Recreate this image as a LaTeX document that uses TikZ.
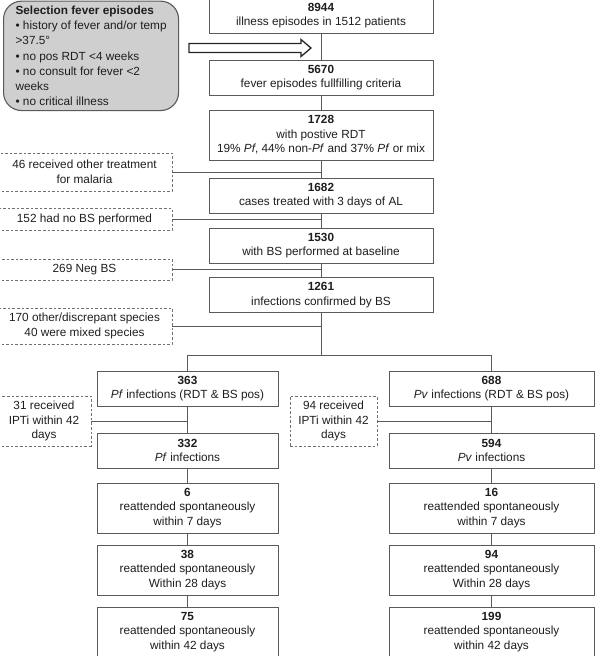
\documentclass[tikz,border=0pt]{standalone}
\usepackage{fontspec}
\setmainfont{Liberation Sans}
\definecolor{txt}{HTML}{1E1E1E}
\definecolor{bord}{HTML}{5A5A5A}
\definecolor{dashc}{HTML}{707070}
\definecolor{selfill}{HTML}{CFCFCF}
\tikzset{
  fnt/.style={font=\fontsize{11.8}{14.5}\selectfont},
  box/.style={draw=bord, line width=1pt, fill=white, align=center, inner sep=0pt, text=txt, fnt},
  dbox/.style={draw=dashc, line width=0.9pt, dash pattern=on 2.6pt off 2pt, align=center, inner sep=0pt, text=txt, fnt},
  link/.style={draw=bord, line width=1pt},
  mainbox/.style={box, minimum width=224pt},
  pfbox/.style={box, minimum width=181pt},
  pvbox/.style={box, minimum width=205pt},
  two/.style={minimum height=35pt},
  three/.style={minimum height=50pt},
  selbox/.style={draw=bord, line width=1.1pt, fill=selfill, rounded corners=18pt, align=left, inner xsep=12pt, inner ysep=0pt, text=txt, font=\fontsize{11.8}{15.2}\selectfont, minimum width=175pt, minimum height=109.4pt, anchor=north west},
  bigarrow/.style={draw=black!85, line width=1.3pt, fill=white},
}
\begin{document}
\begin{tikzpicture}[x=1pt, y=-1pt]
\useasboundingbox (0,0) rectangle (600,656);

% selection box and arrow
\node[selbox] (sel) at (3,0.6) {\textbf{Selection fever episodes}\\
• history of fever and/or temp\\
>37.5°\\
• no pos RDT <4 weeks\\
• no consult for fever <2\\
weeks\\
• no critical illness};
\draw[bigarrow] (189,43.5) -- (301,43.5) -- (301,39.5) -- (311,48) -- (301,56.5) -- (301,52.5) -- (189,52.5) -- cycle;

% main column
\node[mainbox, two] (n8944) at (321,15.5) {\textbf{8944}\\illness episodes in 1512 patients};
\node[mainbox, two] (n5670) at (321,77.5) {\textbf{5670}\\fever episodes fullfilling criteria};
\node[mainbox, three] (n1728) at (321,135) {\textbf{1728}\\with postive RDT\\19\% \textit{Pf}, 44\% non-\textit{Pf} and 37\% \textit{Pf} or mix};
\node[mainbox, two] (n1682) at (321,195.5) {\textbf{1682}\\cases treated with 3 days of AL};
\node[mainbox, two] (n1530) at (321,245.5) {\textbf{1530}\\with BS performed at baseline};
\node[mainbox, two] (n1261) at (321,295) {\textbf{1261}\\infections confirmed by BS};

% exclusion boxes
\node[dbox, minimum width=175pt, minimum height=38pt] (d46) at (84.5,172) {46 received other treatment\\for malaria};
\node[dbox, minimum width=175pt, minimum height=22pt] (d152) at (84.5,219.5) {152 had no BS performed};
\node[dbox, minimum width=175pt, minimum height=21pt] (d269) at (84.5,269.5) {269 Neg BS};
\node[dbox, minimum width=175pt, minimum height=36pt] (d170) at (84.5,326) {170 other/discrepant species\\40 were mixed species};

% Pf column
\node[pfbox, two] (p363) at (187.5,388.5) {\textbf{363}\\\textit{Pf} infections (RDT \& BS pos)};
\node[pfbox, two] (p332) at (187.5,450.5) {\textbf{332}\\\textit{Pf} infections};
\node[pfbox, three] (p6) at (187.5,508) {\textbf{6}\\reattended spontaneously\\within 7 days};
\node[pfbox, three] (p38) at (187.5,570) {\textbf{38}\\reattended spontaneously\\Within 28 days};
\node[pfbox, three] (p75) at (187.5,632) {\textbf{75}\\reattended spontaneously\\within 42 days};
\node[dbox, minimum width=94pt, minimum height=50pt] (d31) at (44,421) {31 received\\IPTi within 42\\days};

% Pv column
\node[pvbox, two] (p688) at (491.5,388.5) {\textbf{688}\\\textit{Pv} infections (RDT \& BS pos)};
\node[pvbox, two] (p594) at (491.5,450.5) {\textbf{594}\\\textit{Pv} infections};
\node[pvbox, three] (p16) at (491.5,508) {\textbf{16}\\reattended spontaneously\\within 7 days};
\node[pvbox, three] (p94) at (491.5,570) {\textbf{94}\\reattended spontaneously\\Within 28 days};
\node[pvbox, three] (p199) at (491.5,632) {\textbf{199}\\reattended spontaneously\\within 42 days};
\node[dbox, minimum width=87pt, minimum height=50pt] (d94) at (333.5,421) {94 received\\IPTi within 42\\days};

% connectors main column
\draw[link] (n8944.south) -- (n5670.north);
\draw[link] (n5670.south) -- (n1728.north);
\draw[link] (n1728.south) -- (n1682.north);
\draw[link] (n1682.south) -- (n1530.north);
\draw[link] (n1530.south) -- (n1261.north);
\draw[link] (d46.east) -- (d46.east -| n1728.south);
\draw[link] (d152.east) -- (d152.east -| n1682.south);
\draw[link] (d269.east) -- (d269.east -| n1530.south);
\coordinate (br) at (321,355);
\draw[link] (n1261.south) -- (br);
\draw[link] (d170.east) -- (d170.east -| n1261.south);
\draw[link] (br) -| (p363.north);
\draw[link] (br) -| (p688.north);

% Pf connectors
\draw[link] (p363.south) -- (p332.north);
\draw[link] (d31.east) -- (d31.east -| p363.south);
\draw[link] (p332.south) -- (p6.north);
\draw[link] (p6.south) -- (p38.north);
\draw[link] (p38.south) -- (p75.north);

% Pv connectors
\draw[link] (p688.south) -- (p594.north);
\draw[link] (d94.east) -- (d94.east -| p688.south);
\draw[link] (p594.south) -- (p16.north);
\draw[link] (p16.south) -- (p94.north);
\draw[link] (p94.south) -- (p199.north);
\end{tikzpicture}
\end{document}
